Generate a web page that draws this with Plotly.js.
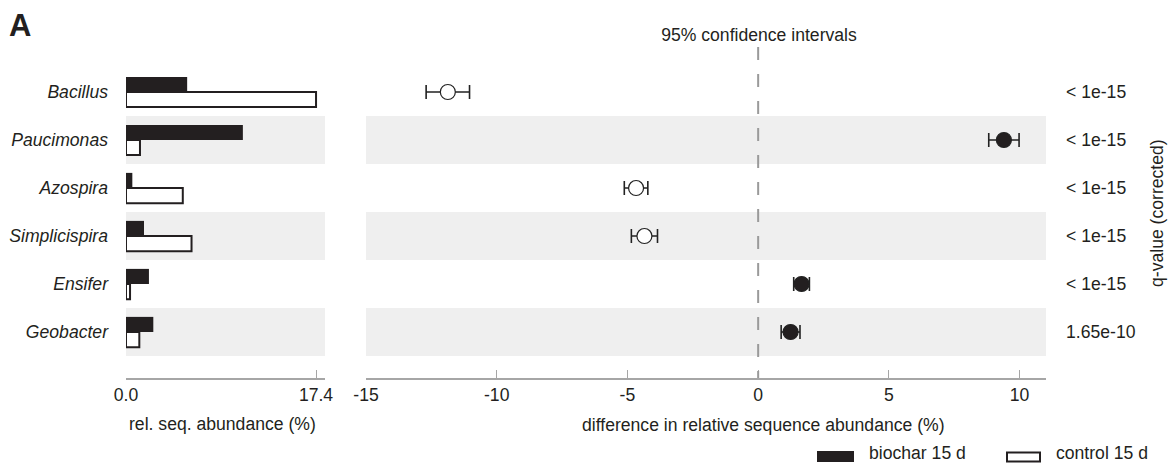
<!DOCTYPE html>
<html>
<head>
<meta charset="utf-8">
<script src="https://cdn.plot.ly/plotly-3.0.1.min.js"></script>
<style>html,body{margin:0;padding:0;background:#fff;}#chart{width:1169px;height:464px;}</style>
</head>
<body>
<div id="chart"></div>
<script>
// ---- data ----
const species = ['Bacillus', 'Paucimonas', 'Azospira', 'Simplicispira', 'Ensifer', 'Geobacter'];
const biochar15d = [5.6, 10.7, 0.58, 1.65, 2.1, 2.5];        // rel. seq. abundance (%)
const control15d = [17.4, 1.28, 5.2, 6.0, 0.37, 1.22];       // rel. seq. abundance (%)
const diffMean = [-11.87, 9.40, -4.67, -4.35, 1.66, 1.24];   // difference (%)
const ciHalf = [0.83, 0.58, 0.45, 0.50, 0.30, 0.36];         // 95% CI half-width
const qValues = ['< 1e-15', '< 1e-15', '< 1e-15', '< 1e-15', '< 1e-15', '1.65e-10'];
const abundTickVals = [0, 17.4];
const abundTickText = ['0.0', '17.4'];
const diffTickVals = [-15, -10, -5, 0, 5, 10];
const diffTickText = ['-15', '-10', '-5', '0', '5', '10'];
const seriesNames = ['biochar 15 d', 'control 15 d'];

// ---- styling helpers ----
const W = 1169, H = 464;
const px = v => v / W;
const py = v => 1 - v / H;
const FONT = 'Liberation Sans, Arial, Helvetica, sans-serif';
const FS = 17.6;
const TXT = '#231f20';
const AXC = '#a6a6a6';
const BAND = '#efefef';
const DARK = '#231f20';

const traces = [
  {
    type: 'bar', orientation: 'h', name: seriesNames[0],
    x: biochar15d, y: species, xaxis: 'x', yaxis: 'y',
    marker: {color: DARK, line: {color: DARK, width: 0}},
    showlegend: false, hoverinfo: 'skip'
  },
  {
    type: 'bar', orientation: 'h', name: seriesNames[1],
    x: control15d, y: species, xaxis: 'x', yaxis: 'y',
    marker: {color: '#ffffff', line: {color: DARK, width: 2}},
    showlegend: false, hoverinfo: 'skip'
  },
  {
    type: 'scatter', mode: 'markers', name: 'difference',
    x: diffMean, y: species, xaxis: 'x2', yaxis: 'y',
    error_x: {type: 'data', array: ciHalf, visible: true, color: '#222', thickness: 1.6, width: 7},
    marker: {
      size: 15,
      color: diffMean.map(v => v > 0 ? DARK : '#ffffff'),
      line: {color: '#222', width: 1.2}
    },
    cliponaxis: false, showlegend: false, hoverinfo: 'skip'
  }
];

// alternating grey bands on rows 2, 4, 6
const shapes = [];
species.forEach((s, i) => {
  if (i % 2 === 1) {
    shapes.push({type: 'rect', layer: 'below', xref: 'x domain', yref: 'y', x0: 0, x1: 1,
      y0: i - 0.5, y1: i + 0.5, fillcolor: BAND, line: {width: 0}});
    shapes.push({type: 'rect', layer: 'below', xref: 'x2 domain', yref: 'y', x0: 0, x1: 1,
      y0: i - 0.5, y1: i + 0.5, fillcolor: BAND, line: {width: 0}});
  }
});
// dashed zero line
shapes.push({type: 'line', xref: 'x2', yref: 'paper', x0: 0, x1: 0, y0: py(47), y1: py(378),
  line: {color: '#9a9a9a', width: 2, dash: '13px,14px'}});
// legend swatches
shapes.push({type: 'rect', xref: 'paper', yref: 'paper', x0: px(817), x1: px(854), y0: py(462), y1: py(451),
  fillcolor: DARK, line: {width: 0}});
shapes.push({type: 'rect', xref: 'paper', yref: 'paper', x0: px(1007), x1: px(1040), y0: py(461.5), y1: py(452.5),
  fillcolor: '#ffffff', line: {color: DARK, width: 2}});

const txtFont = {family: FONT, size: FS, color: TXT};
const annotations = [];
qValues.forEach((q, i) => {
  annotations.push({text: q, xref: 'paper', yref: 'y', x: px(1064), y: species[i],
    xanchor: 'left', yanchor: 'middle', showarrow: false, font: txtFont});
});
annotations.push({text: 'q-value (corrected)', xref: 'paper', yref: 'paper', x: px(1157), y: py(213),
  textangle: -90, xanchor: 'center', yanchor: 'middle', showarrow: false, borderpad: 0, font: txtFont});
annotations.push({text: 'rel. seq. abundance (%)', xref: 'paper', yref: 'paper', x: px(222), y: py(424),
  xanchor: 'center', yanchor: 'middle', showarrow: false, font: txtFont});
annotations.push({text: 'difference in relative sequence abundance (%)', xref: 'x2', yref: 'paper', x: 0, xshift: 5, y: py(425),
  xanchor: 'center', yanchor: 'middle', showarrow: false, font: txtFont});
annotations.push({text: '<b>A</b>', xref: 'paper', yref: 'paper', x: px(7), y: py(25),
  xanchor: 'left', yanchor: 'middle', showarrow: false, font: {family: FONT, size: 31, color: TXT}});
annotations.push({text: seriesNames[0], xref: 'paper', yref: 'paper', x: px(868), y: py(452.5),
  xanchor: 'left', yanchor: 'middle', showarrow: false, borderpad: 0, font: txtFont});
annotations.push({text: seriesNames[1], xref: 'paper', yref: 'paper', x: px(1055), y: py(452.5),
  xanchor: 'left', yanchor: 'middle', showarrow: false, borderpad: 0, font: txtFont});

const layout = {
  width: W, height: H,
  margin: {l: 0, r: 0, t: 0, b: 0, pad: 0},
  paper_bgcolor: '#ffffff', plot_bgcolor: 'rgba(0,0,0,0)',
  font: txtFont,
  title: {text: '95% confidence intervals', x: px(759), y: py(35), xref: 'paper', yref: 'paper',
    xanchor: 'center', yanchor: 'middle', font: txtFont},
  barmode: 'group', bargap: 0.37, bargroupgap: 0,
  showlegend: false,
  xaxis: {
    domain: [px(126), px(325)], range: [0, 18.22], anchor: 'y',
    tickmode: 'array', tickvals: abundTickVals, ticktext: abundTickText,
    ticks: 'inside', ticklen: 8, tickwidth: 1, tickcolor: AXC,
    showline: true, linecolor: AXC, linewidth: 2,
    showgrid: false, zeroline: false, fixedrange: true,
    tickfont: txtFont
  },
  xaxis2: {
    domain: [px(366), px(1046)], range: [-15, 11.01], anchor: 'y',
    tickmode: 'array', tickvals: diffTickVals, ticktext: diffTickText,
    ticks: 'inside', ticklen: 8, tickwidth: 1, tickcolor: AXC,
    showline: true, linecolor: AXC, linewidth: 2,
    showgrid: false, zeroline: false, fixedrange: true,
    tickfont: txtFont
  },
  yaxis: {
    domain: [py(378), py(68)], anchor: 'x',
    type: 'category', categoryorder: 'array', categoryarray: species,
    range: [5.958, -0.5],
    ticks: '', ticklabelstandoff: 17, showline: false, showgrid: false, zeroline: false, fixedrange: true,
    tickfont: {family: FONT, size: FS, color: TXT, style: 'italic'}
  },
  shapes: shapes,
  annotations: annotations
};

Plotly.newPlot('chart', traces, layout, {staticPlot: true, displayModeBar: false});
</script>
</body>
</html>
